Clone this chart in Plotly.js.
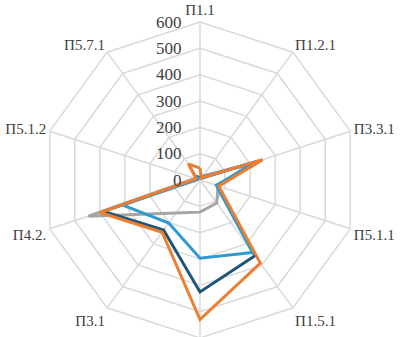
<!DOCTYPE html>
<html><head><meta charset="utf-8">
<script src="https://cdn.plot.ly/plotly-3.0.1.min.js"></script>
<style>html,body{margin:0;padding:0;overflow:hidden;background:#fff}</style>
</head><body>
<div id="chart" style="width:400px;height:340px"></div>
<script>
var categories = ["П1.1","П1.2.1","П3.3.1","П5.1.1","П1.5.1","П2.1","П3.1","П4.2.","П5.1.2","П5.7.1"];
var categoryLabels = ["П1.1","П1.2.1","П3.3.1","П5.1.1","П1.5.1","","П3.1","П4.2.","П5.1.2","П5.7.1"];
var seriesGray   = [5, 20, 200, 72, 108, 122, 155, 445, 20, 10];
var seriesDark   = [10, 10, 235, 70, 355, 425, 235, 385, 10, 15];
var seriesLight  = [10, 10, 230, 65, 340, 297, 202, 308, 10, 10];
var seriesOrange = [45, 10, 250, 75, 390, 530, 245, 400, 15, 75];
var radialTicks = [0,100,200,300,400,500,600];

function closed(a){ return a.concat([a[0]]); }
function tr(vals, color){
  return {type:'scatterpolar', mode:'lines', r: closed(vals), theta: closed(categories),
    line:{color:color, width:3}, hoverinfo:'skip', showlegend:false};
}
var data = [
  tr(seriesGray,'#A5A5A5'),
  tr(seriesDark,'#1F5677'),
  tr(seriesLight,'#2E9BD0'),
  tr(seriesOrange,'#ED7D31')
];
var fam = 'Times New Roman, Liberation Serif, serif';
var layout = {
  width:400, height:340,
  margin:{t:22,b:2,l:42,r:42,pad:0},
  paper_bgcolor:'#fff', plot_bgcolor:'#fff',
  font:{family:fam},
  showlegend:false,
  polar:{
    bgcolor:'#fff',
    gridshape:'linear',
    domain:{x:[0,1],y:[0,1]},
    radialaxis:{range:[0,600], tickvals:radialTicks, ticktext:radialTicks.map(String),
      angle:90, tickangle:90, side:'counterclockwise', showline:false,
      ticks:'outside', ticklen:12, tickcolor:'rgba(0,0,0,0)',
      gridcolor:'#D9D9D9', gridwidth:1.5, tickfont:{family:fam, size:17, color:'#404040'}},
    angularaxis:{type:'category', categoryarray:categories, direction:'clockwise', rotation:90,
      tickmode:'array', tickvals:categories, ticktext:categoryLabels,
      gridcolor:'#D9D9D9', gridwidth:1.5, linecolor:'#D9D9D9', linewidth:1.5, ticks:'',
      tickfont:{family:fam, size:15, color:'#404040'}}
  }
};
Plotly.newPlot('chart', data, layout, {staticPlot:true, displayModeBar:false});
</script>
</body></html>
